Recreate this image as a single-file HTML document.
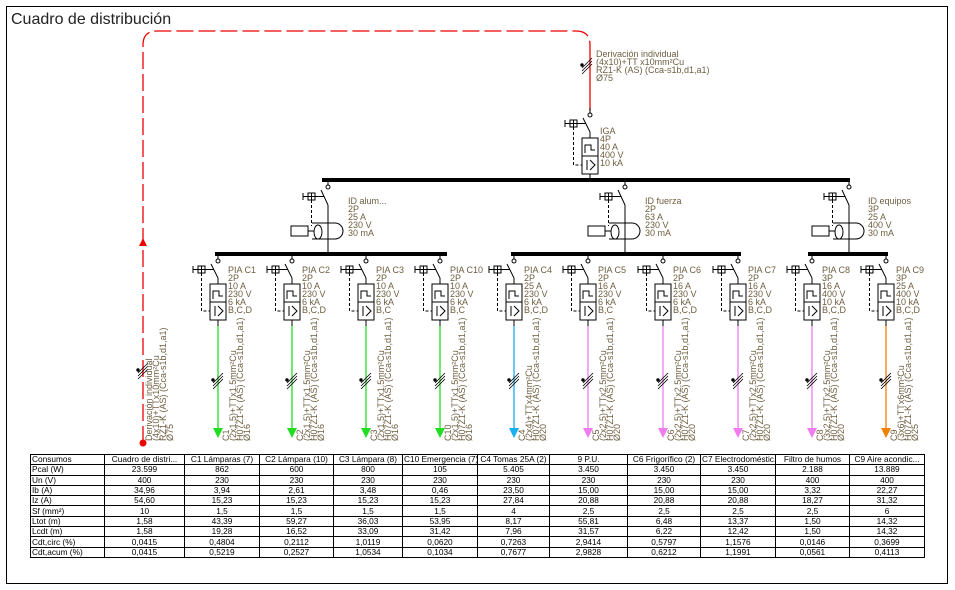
<!DOCTYPE html>
<html><head><meta charset="utf-8"><style>
body{margin:0;background:#fff;width:955px;height:590px;overflow:hidden;position:relative;font-family:"Liberation Sans",sans-serif}
svg{position:absolute;left:0;top:0}
.l{font-size:9px;fill:#6e5e40;font-family:"Liberation Sans",sans-serif}
table{position:absolute;left:30px;top:454px;border-collapse:collapse;font-size:8.3px;font-family:"Liberation Sans",sans-serif;table-layout:fixed;width:894px}
td{border:1px solid #000;height:9.3px;padding:0 1px;line-height:9px;text-align:center;white-space:nowrap;overflow:hidden}
td:first-child{text-align:left}
</style></head><body>
<svg width="955" height="590" viewBox="0 0 955 590">
<defs>
<g id="pia" stroke="#000" stroke-width="1" fill="none">
<line x1="0" y1="254" x2="0" y2="259"/><circle cx="0" cy="261" r="2" fill="#fff"/>
<line x1="-7" y1="264" x2="0" y2="278"/><line x1="0" y1="278" x2="0" y2="284"/>
<rect x="-8" y="284" width="16" height="36" fill="#fff"/><line x1="-8" y1="302" x2="8" y2="302"/>
<path d="M-5,299 V291 H1 V296 H5"/>
<line x1="-3" y1="306" x2="-3" y2="316"/><path d="M0,306 L5,311 L0,316"/>
<rect x="-20" y="266" width="7" height="7" fill="#fff"/><line x1="-16.5" y1="266" x2="-16.5" y2="273"/><line x1="-20" y1="269.5" x2="-13" y2="269.5"/>
<line x1="-25" y1="269.5" x2="-20" y2="269.5"/><line x1="-25" y1="266" x2="-25" y2="273"/><line x1="-13" y1="269.5" x2="-4" y2="269.5"/>
<path d="M-16.5,273 V311 H-8" stroke-dasharray="3,2"/>
<line x1="0" y1="320" x2="0" y2="326"/>
</g>
<g id="tick" stroke="#000" stroke-width="0.8"><line x1="-5" y1="383" x2="5" y2="373"/><line x1="-5" y1="386" x2="5" y2="376"/><line x1="-5" y1="389" x2="5" y2="379"/><circle cx="-5" cy="380" r="1.3" fill="#000"/></g>
<g id="id" stroke="#000" stroke-width="1" fill="none">
<circle cx="0" cy="187" r="2" fill="#fff"/><line x1="0" y1="180" x2="0" y2="185"/>
<line x1="-7" y1="190" x2="0" y2="205"/><line x1="0" y1="205" x2="0" y2="254"/>
<rect x="-20" y="193" width="7" height="7" fill="#fff"/><line x1="-16.5" y1="193" x2="-16.5" y2="200"/><line x1="-20" y1="196.5" x2="-13" y2="196.5"/>
<line x1="-25" y1="196.5" x2="-20" y2="196.5"/><line x1="-25" y1="193" x2="-25" y2="200"/><line x1="-13" y1="196.5" x2="-4" y2="196.5"/>
<path d="M-16.5,200 V226" stroke-dasharray="3,2"/>
<rect x="-37" y="226" width="17" height="10" fill="#fff"/><line x1="-20" y1="231" x2="-14" y2="231"/>
<ellipse cx="-10" cy="232" rx="4" ry="7"/>
<path d="M-16,223 H7 A8,8 0 0 1 7,239 H-16"/>
</g>
</defs>
<rect x="6.5" y="6.5" width="941" height="577" fill="none" stroke="#000"/>
<text x="11" y="24" font-size="16" fill="#222" font-family="Liberation Sans,sans-serif">Cuadro de distribución</text>
<path d="M143,443 V45 Q143,31 157,31 H576 Q590,31 590,45" fill="none" stroke="#e00" stroke-width="1.3" stroke-dasharray="17,5"/>
<line x1="590" y1="45" x2="590" y2="111" stroke="#e00" stroke-width="1.3"/>
<circle cx="143" cy="443" r="3.5" fill="#e00"/><polygon points="139,246 147,246 143,238" fill="#e00"/>
<use href="#tick" transform="translate(143,-10)"/><use href="#tick" transform="translate(587,-315)"/>
<text class="l" transform="translate(152,441) rotate(-90)">Derivación individual</text>
<text class="l" transform="translate(159,441) rotate(-90)">(4x10)+TTx10mm²Cu</text>
<text class="l" transform="translate(166,441) rotate(-90)">RZ1-K (AS) (Cca-s1b,d1,a1)</text>
<text class="l" transform="translate(173,441) rotate(-90)">Ø75</text>
<text class="l" x="596" y="57">Derivación individual</text><text class="l" x="596" y="65">(4x10)+TT x10mm²Cu</text><text class="l" x="596" y="73">RZ1-K (AS) (Cca-s1b,d1,a1)</text><text class="l" x="596" y="81">Ø75</text>
<g transform="translate(590,-146)"><use href="#pia"/></g>
<line x1="590" y1="174" x2="590" y2="180" stroke="#000"/>
<text class="l" x="600" y="134">IGA</text><text class="l" x="600" y="142">4P</text><text class="l" x="600" y="150">40 A</text><text class="l" x="600" y="158">400 V</text><text class="l" x="600" y="166">10 kA</text>
<rect x="322" y="178" width="528" height="4" fill="#000"/>
<use href="#id" transform="translate(328,0)"/><use href="#id" transform="translate(625,0)"/><use href="#id" transform="translate(849,0)"/>
<text class="l" x="348" y="204">ID alum...</text><text class="l" x="348" y="212">2P</text><text class="l" x="348" y="220">25 A</text><text class="l" x="348" y="228">230 V</text><text class="l" x="348" y="236">30 mA</text>
<text class="l" x="645" y="204">ID fuerza</text><text class="l" x="645" y="212">2P</text><text class="l" x="645" y="220">63 A</text><text class="l" x="645" y="228">230 V</text><text class="l" x="645" y="236">30 mA</text>
<text class="l" x="868" y="204">ID equipos</text><text class="l" x="868" y="212">3P</text><text class="l" x="868" y="220">25 A</text><text class="l" x="868" y="228">400 V</text><text class="l" x="868" y="236">30 mA</text>
<rect x="215" y="252" width="232" height="4" fill="#000"/><rect x="511" y="252" width="230" height="4" fill="#000"/><rect x="808" y="252" width="80" height="4" fill="#000"/>

<!-- circuits -->
<g transform="translate(218,0)"><use href="#pia"/><line x1="0" y1="326" x2="0" y2="430" stroke="#22dd22" stroke-width="1.3"/><polygon points="-5,428 5,428 0,438" fill="#22dd22"/><use href="#tick"/>
<text class="l" x="10" y="273">PIA C1</text><text class="l" x="10" y="281">2P</text><text class="l" x="10" y="289">10 A</text><text class="l" x="10" y="297">230 V</text><text class="l" x="10" y="305">6 kA</text><text class="l" x="10" y="313">B,C,D</text>
<text class="l" transform="translate(11,441) rotate(-90)">C1</text><text class="l" transform="translate(18,441) rotate(-90)">(2x1.5)+TTx1.5mm²Cu</text><text class="l" transform="translate(25,441) rotate(-90)">H07Z1-K (AS) (Cca-s1b,d1,a1)</text><text class="l" transform="translate(32,441) rotate(-90)">Ø16</text></g>
<g transform="translate(292,0)"><use href="#pia"/><line x1="0" y1="326" x2="0" y2="430" stroke="#22dd22" stroke-width="1.3"/><polygon points="-5,428 5,428 0,438" fill="#22dd22"/><use href="#tick"/>
<text class="l" x="10" y="273">PIA C2</text><text class="l" x="10" y="281">2P</text><text class="l" x="10" y="289">10 A</text><text class="l" x="10" y="297">230 V</text><text class="l" x="10" y="305">6 kA</text><text class="l" x="10" y="313">B,C,D</text>
<text class="l" transform="translate(11,441) rotate(-90)">C2</text><text class="l" transform="translate(18,441) rotate(-90)">(2x1.5)+TTx1.5mm²Cu</text><text class="l" transform="translate(25,441) rotate(-90)">H07Z1-K (AS) (Cca-s1b,d1,a1)</text><text class="l" transform="translate(32,441) rotate(-90)">Ø16</text></g>
<g transform="translate(366,0)"><use href="#pia"/><line x1="0" y1="326" x2="0" y2="430" stroke="#22dd22" stroke-width="1.3"/><polygon points="-5,428 5,428 0,438" fill="#22dd22"/><use href="#tick"/>
<text class="l" x="10" y="273">PIA C3</text><text class="l" x="10" y="281">2P</text><text class="l" x="10" y="289">10 A</text><text class="l" x="10" y="297">230 V</text><text class="l" x="10" y="305">6 kA</text><text class="l" x="10" y="313">B,C</text>
<text class="l" transform="translate(11,441) rotate(-90)">C3</text><text class="l" transform="translate(18,441) rotate(-90)">(2x1.5)+TTx1.5mm²Cu</text><text class="l" transform="translate(25,441) rotate(-90)">H07Z1-K (AS) (Cca-s1b,d1,a1)</text><text class="l" transform="translate(32,441) rotate(-90)">Ø16</text></g>
<g transform="translate(440,0)"><use href="#pia"/><line x1="0" y1="326" x2="0" y2="430" stroke="#22dd22" stroke-width="1.3"/><polygon points="-5,428 5,428 0,438" fill="#22dd22"/><use href="#tick"/>
<text class="l" x="10" y="273">PIA C10</text><text class="l" x="10" y="281">2P</text><text class="l" x="10" y="289">10 A</text><text class="l" x="10" y="297">230 V</text><text class="l" x="10" y="305">6 kA</text><text class="l" x="10" y="313">B,C</text>
<text class="l" transform="translate(11,441) rotate(-90)">C10</text><text class="l" transform="translate(18,441) rotate(-90)">(2x1.5)+TTx1.5mm²Cu</text><text class="l" transform="translate(25,441) rotate(-90)">H07Z1-K (AS) (Cca-s1b,d1,a1)</text><text class="l" transform="translate(32,441) rotate(-90)">Ø16</text></g>
<g transform="translate(514,0)"><use href="#pia"/><line x1="0" y1="326" x2="0" y2="430" stroke="#18b0f0" stroke-width="1.3"/><polygon points="-5,428 5,428 0,438" fill="#18b0f0"/><use href="#tick"/>
<text class="l" x="10" y="273">PIA C4</text><text class="l" x="10" y="281">2P</text><text class="l" x="10" y="289">25 A</text><text class="l" x="10" y="297">230 V</text><text class="l" x="10" y="305">6 kA</text><text class="l" x="10" y="313">B,C,D</text>
<text class="l" transform="translate(11,441) rotate(-90)">C4</text><text class="l" transform="translate(18,441) rotate(-90)">(2x4)+TTx4mm²Cu</text><text class="l" transform="translate(25,441) rotate(-90)">H07Z1-K (AS) (Cca-s1b,d1,a1)</text><text class="l" transform="translate(32,441) rotate(-90)">Ø20</text></g>
<g transform="translate(588,0)"><use href="#pia"/><line x1="0" y1="326" x2="0" y2="430" stroke="#f07cf0" stroke-width="1.3"/><polygon points="-5,428 5,428 0,438" fill="#f07cf0"/><use href="#tick"/>
<text class="l" x="10" y="273">PIA C5</text><text class="l" x="10" y="281">2P</text><text class="l" x="10" y="289">16 A</text><text class="l" x="10" y="297">230 V</text><text class="l" x="10" y="305">6 kA</text><text class="l" x="10" y="313">B,C</text>
<text class="l" transform="translate(11,441) rotate(-90)">C5</text><text class="l" transform="translate(18,441) rotate(-90)">(2x2.5)+TTx2.5mm²Cu</text><text class="l" transform="translate(25,441) rotate(-90)">H07Z1-K (AS) (Cca-s1b,d1,a1)</text><text class="l" transform="translate(32,441) rotate(-90)">Ø20</text></g>
<g transform="translate(663,0)"><use href="#pia"/><line x1="0" y1="326" x2="0" y2="430" stroke="#f07cf0" stroke-width="1.3"/><polygon points="-5,428 5,428 0,438" fill="#f07cf0"/><use href="#tick"/>
<text class="l" x="10" y="273">PIA C6</text><text class="l" x="10" y="281">2P</text><text class="l" x="10" y="289">16 A</text><text class="l" x="10" y="297">230 V</text><text class="l" x="10" y="305">6 kA</text><text class="l" x="10" y="313">B,C,D</text>
<text class="l" transform="translate(11,441) rotate(-90)">C6</text><text class="l" transform="translate(18,441) rotate(-90)">(2x2.5)+TTx2.5mm²Cu</text><text class="l" transform="translate(25,441) rotate(-90)">H07Z1-K (AS) (Cca-s1b,d1,a1)</text><text class="l" transform="translate(32,441) rotate(-90)">Ø20</text></g>
<g transform="translate(738,0)"><use href="#pia"/><line x1="0" y1="326" x2="0" y2="430" stroke="#f07cf0" stroke-width="1.3"/><polygon points="-5,428 5,428 0,438" fill="#f07cf0"/><use href="#tick"/>
<text class="l" x="10" y="273">PIA C7</text><text class="l" x="10" y="281">2P</text><text class="l" x="10" y="289">16 A</text><text class="l" x="10" y="297">230 V</text><text class="l" x="10" y="305">6 kA</text><text class="l" x="10" y="313">B,C,D</text>
<text class="l" transform="translate(11,441) rotate(-90)">C7</text><text class="l" transform="translate(18,441) rotate(-90)">(2x2.5)+TTx2.5mm²Cu</text><text class="l" transform="translate(25,441) rotate(-90)">H07Z1-K (AS) (Cca-s1b,d1,a1)</text><text class="l" transform="translate(32,441) rotate(-90)">Ø20</text></g>
<g transform="translate(812,0)"><use href="#pia"/><line x1="0" y1="326" x2="0" y2="430" stroke="#f07cf0" stroke-width="1.3"/><polygon points="-5,428 5,428 0,438" fill="#f07cf0"/><use href="#tick"/>
<text class="l" x="10" y="273">PIA C8</text><text class="l" x="10" y="281">3P</text><text class="l" x="10" y="289">16 A</text><text class="l" x="10" y="297">400 V</text><text class="l" x="10" y="305">10 kA</text><text class="l" x="10" y="313">B,C,D</text>
<text class="l" transform="translate(11,441) rotate(-90)">C8</text><text class="l" transform="translate(18,441) rotate(-90)">(3x2.5)+TTx2.5mm²Cu</text><text class="l" transform="translate(25,441) rotate(-90)">H07Z1-K (AS) (Cca-s1b,d1,a1)</text><text class="l" transform="translate(32,441) rotate(-90)">Ø20</text></g>
<g transform="translate(886,0)"><use href="#pia"/><line x1="0" y1="326" x2="0" y2="430" stroke="#f08000" stroke-width="1.3"/><polygon points="-5,428 5,428 0,438" fill="#f08000"/><use href="#tick"/>
<text class="l" x="10" y="273">PIA C9</text><text class="l" x="10" y="281">3P</text><text class="l" x="10" y="289">25 A</text><text class="l" x="10" y="297">400 V</text><text class="l" x="10" y="305">10 kA</text><text class="l" x="10" y="313">B,C,D</text>
<text class="l" transform="translate(11,441) rotate(-90)">C9</text><text class="l" transform="translate(18,441) rotate(-90)">(3x6)+TTx6mm²Cu</text><text class="l" transform="translate(25,441) rotate(-90)">H07Z1-K (AS) (Cca-s1b,d1,a1)</text><text class="l" transform="translate(32,441) rotate(-90)">Ø25</text></g>
</svg>
<table>
<colgroup><col style="width:74px"><col style="width:80px"><col style="width:75px"><col style="width:74px"><col style="width:69px"><col style="width:75px"><col style="width:72px"><col style="width:78px"><col style="width:73px"><col style="width:75px"><col style="width:74px"><col style="width:75px"></colgroup>
<tr><td>Consumos</td><td>Cuadro de distri...</td><td>C1 Lámparas (7)</td><td>C2 Lámpara (10)</td><td>C3 Lámpara (8)</td><td>C10 Emergencia (7)</td><td>C4 Tomas 25A (2)</td><td>9 P.U.</td><td>C6 Frigorífico (2)</td><td>C7 Electrodoméstic...</td><td>Filtro de humos</td><td>C9 Aire acondic...</td></tr>
<tr><td>Pcal (W)</td><td>23.599</td><td>862</td><td>600</td><td>800</td><td>105</td><td>5.405</td><td>3.450</td><td>3.450</td><td>3.450</td><td>2.188</td><td>13.889</td></tr>
<tr><td>Un (V)</td><td>400</td><td>230</td><td>230</td><td>230</td><td>230</td><td>230</td><td>230</td><td>230</td><td>230</td><td>400</td><td>400</td></tr>
<tr><td>Ib (A)</td><td>34,96</td><td>3,94</td><td>2,61</td><td>3,48</td><td>0,46</td><td>23,50</td><td>15,00</td><td>15,00</td><td>15,00</td><td>3,32</td><td>22,27</td></tr>
<tr><td>Iz (A)</td><td>54,60</td><td>15,23</td><td>15,23</td><td>15,23</td><td>15,23</td><td>27,84</td><td>20,88</td><td>20,88</td><td>20,88</td><td>18,27</td><td>31,32</td></tr>
<tr><td>Sf (mm²)</td><td>10</td><td>1,5</td><td>1,5</td><td>1,5</td><td>1,5</td><td>4</td><td>2,5</td><td>2,5</td><td>2,5</td><td>2,5</td><td>6</td></tr>
<tr><td>Ltot (m)</td><td>1,58</td><td>43,39</td><td>59,27</td><td>36,03</td><td>53,95</td><td>8,17</td><td>55,81</td><td>6,48</td><td>13,37</td><td>1,50</td><td>14,32</td></tr>
<tr><td>Lcdt (m)</td><td>1,58</td><td>19,28</td><td>16,52</td><td>33,09</td><td>31,42</td><td>7,96</td><td>31,57</td><td>6,22</td><td>12,42</td><td>1,50</td><td>14,32</td></tr>
<tr><td>Cdt,circ (%)</td><td>0,0415</td><td>0,4804</td><td>0,2112</td><td>1,0119</td><td>0,0620</td><td>0,7263</td><td>2,9414</td><td>0,5797</td><td>1,1576</td><td>0,0146</td><td>0,3699</td></tr>
<tr><td>Cdt,acum (%)</td><td>0,0415</td><td>0,5219</td><td>0,2527</td><td>1,0534</td><td>0,1034</td><td>0,7677</td><td>2,9828</td><td>0,6212</td><td>1,1991</td><td>0,0561</td><td>0,4113</td></tr>
</table>
</body></html>
